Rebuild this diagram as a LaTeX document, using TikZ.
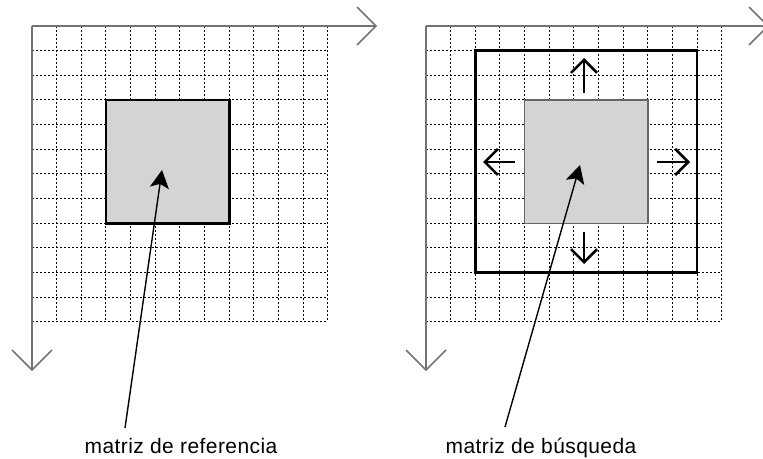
\documentclass[tikz,border=0pt]{standalone}
\usepackage{fontspec}
\setmainfont{Liberation Sans}
\usetikzlibrary{arrows.meta}
\tikzset{
  gridline/.style={black, line width=1pt, dash pattern=on 2pt off 2pt},
  axisline/.style={black!55, line width=1.6pt, line join=miter},
  refbox/.style={draw=black, line width=2.6pt, fill=black!17, inner sep=0pt, minimum width=123.25pt, minimum height=123.25pt},
  searchbox/.style={draw=black, line width=2.6pt, inner sep=0pt, minimum width=221.85pt, minimum height=221.85pt},
  innerbox/.style={draw=black!60, line width=1.4pt, fill=black!17, inner sep=0pt, minimum width=123.25pt, minimum height=123.25pt},
  moveto/.style={line width=2.6pt, -{Straight Barb[length=13pt,width=26pt,line width=2.6pt]}},
  ptr/.style={line width=1.4pt, -{Stealth[length=18pt,width=19pt,inset=4pt]}},
  lbl/.style={font=\fontsize{21}{24}\selectfont\addfontfeature{LetterSpace=2}, inner sep=0pt, anchor=base}
}
\begin{document}
\begin{tikzpicture}[x=1pt,y=-1pt]
\useasboundingbox (0,0) rectangle (763,458);
\clip (0,0) rectangle (763,458);
\def\s{24.65}
% ---------- left panel ----------
\foreach \k in {1,...,12} {
  \draw[gridline] (32+\k*\s,26) -- (32+\k*\s,26+12*\s);
  \draw[gridline] (32,26+\k*\s) -- (32+12*\s,26+\k*\s);
}
\draw[axisline] (32,26) -- (376,26);
\draw[axisline] (357,7) -- (376,26) -- (357,45);
\draw[axisline] (32,26) -- (32,370);
\draw[axisline] (12,350) -- (32,370) -- (52,350);
\node[refbox] (refL) at (32+5.5*\s,26+5.5*\s) {};
% ---------- right panel ----------
\foreach \k in {1,...,12} {
  \draw[gridline] (426+\k*\s,26) -- (426+\k*\s,26+12*\s);
  \draw[gridline] (426,26+\k*\s) -- (426+12*\s,26+\k*\s);
}
\draw[axisline] (426,26) -- (768,26);
\draw[axisline] (749,7) -- (768,26) -- (749,45);
\draw[axisline] (426,26) -- (426,370);
\draw[axisline] (406,350) -- (426,370) -- (446,350);
\node[searchbox] (srch) at (426+6.5*\s,26+5.5*\s) {};
\node[innerbox] (refR) at (426+6.5*\s,26+5.5*\s) {};
% movement arrows
\coordinate (upA) at (584,93);   \coordinate (upB) at (584,58);
\coordinate (dnA) at (584,232);  \coordinate (dnB) at (584,264);
\coordinate (lfA) at (515,162);  \coordinate (lfB) at (483,162);
\coordinate (rtA) at (657,162);  \coordinate (rtB) at (690,162);
\draw[moveto] (upA) -- (upB);
\draw[moveto] (dnA) -- (dnB);
\draw[moveto] (lfA) -- (lfB);
\draw[moveto] (rtA) -- (rtB);
% ---------- labels and pointers ----------
\node[lbl] (lblL) at (181,453) {matriz de referencia};
\node[lbl] (lblR) at (541,453) {matriz de búsqueda};
\coordinate (sL) at (125,428); \coordinate (tL) at (162,170);
\coordinate (sR) at (505,427); \coordinate (tR) at (580,165);
\draw[ptr] (sL) -- (tL);
\draw[ptr] (sR) -- (tR);
\end{tikzpicture}
\end{document}
